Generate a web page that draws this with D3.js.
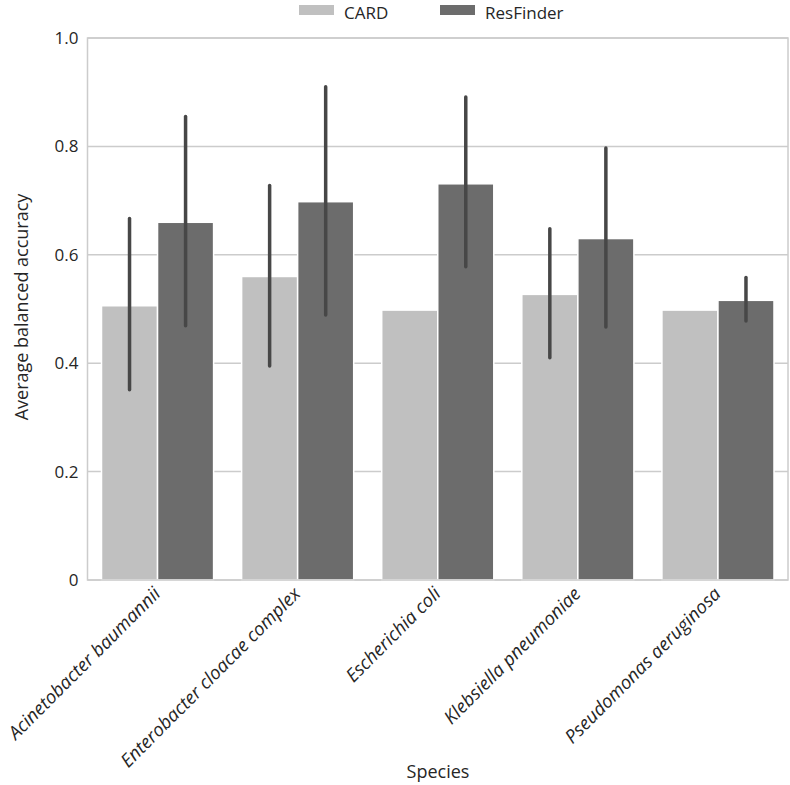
<!DOCTYPE html>
<html>
<head>
<meta charset="utf-8">
<script src="https://cdn.jsdelivr.net/npm/d3@7"></script>
<style>
  body { margin: 0; background: #fff; }
  svg { display: block; font-family: "Open Sans", "Noto Sans", sans-serif; }
</style>
</head>
<body>
<svg id="chart"></svg>
<script>
// Dados
const species = ['Acinetobacter baumannii', 'Enterobacter cloacae complex', 'Escherichia coli', 'Klebsiella pneumoniae', 'Pseudomonas aeruginosa'];
const tools = ['CARD', 'ResFinder'];
const cardMean = [0.506, 0.560, 0.498, 0.527, 0.498];
const cardLow = [0.351, 0.395, null, 0.410, null];
const cardHigh = [0.667, 0.728, null, 0.648, null];
const resMean = [0.660, 0.698, 0.731, 0.630, 0.516];
const resLow = [0.469, 0.489, 0.578, 0.467, 0.478];
const resHigh = [0.855, 0.910, 0.891, 0.797, 0.558];
const yTicks = [0, 0.2, 0.4, 0.6, 0.8, 1.0];

const width = 790, height = 785;
const margin = {top: 38, right: 2, bottom: 205, left: 87.5};
const colors = {CARD: '#c0c0c0', ResFinder: '#6c6c6c'};
const textColor = '#262626';

const svg = d3.select('#chart').attr('width', width).attr('height', height);

const x = d3.scaleBand().domain(species).range([margin.left, width - margin.right]).paddingInner(0).paddingOuter(0);
const xInner = d3.scaleBand().domain(tools).range([0, x.bandwidth() * 0.8]);
const y = d3.scaleLinear().domain([0, 1]).range([height - margin.bottom, margin.top]);

// Linhas de grade
svg.append('g')
    .selectAll('line')
    .data(yTicks)
    .enter()
    .append('line')
    .attr('x1', margin.left)
    .attr('x2', width - margin.right)
    .attr('y1', d => y(d))
    .attr('y2', d => y(d))
    .attr('stroke', '#cccccc')
    .attr('stroke-width', 1.5);

// Montar linhas por espécie e ferramenta
const rows = [];
species.forEach((s, i) => {
    rows.push({species: s, tool: 'CARD', mean: cardMean[i], low: cardLow[i], high: cardHigh[i]});
    rows.push({species: s, tool: 'ResFinder', mean: resMean[i], low: resLow[i], high: resHigh[i]});
});
const offset = x.bandwidth() * 0.1;

// Barras
svg.append('g')
    .selectAll('rect')
    .data(rows)
    .enter()
    .append('rect')
    .attr('x', d => x(d.species) + offset + xInner(d.tool))
    .attr('y', d => y(d.mean))
    .attr('width', xInner.bandwidth())
    .attr('height', d => y(0) - y(d.mean))
    .attr('fill', d => colors[d.tool])
    .attr('stroke', '#ffffff')
    .attr('stroke-width', 1.5);

// Barras de erro
svg.append('g')
    .selectAll('line')
    .data(rows.filter(d => d.low !== null))
    .enter()
    .append('line')
    .attr('x1', d => x(d.species) + offset + xInner(d.tool) + xInner.bandwidth() / 2)
    .attr('x2', d => x(d.species) + offset + xInner(d.tool) + xInner.bandwidth() / 2)
    .attr('y1', d => y(d.low))
    .attr('y2', d => y(d.high))
    .attr('stroke', '#474747')
    .attr('stroke-width', 3.5)
    .attr('stroke-linecap', 'round');

// Moldura
svg.append('rect')
    .attr('x', margin.left)
    .attr('y', margin.top)
    .attr('width', width - margin.right - margin.left)
    .attr('height', y(0) - margin.top)
    .attr('fill', 'none')
    .attr('stroke', '#cccccc')
    .attr('stroke-width', 1.5);

// Eixo Y
const yAxis = svg.append('g')
    .attr('transform', `translate(${margin.left},0)`)
    .call(d3.axisLeft(y).tickValues(yTicks).tickSize(0).tickPadding(9)
        .tickFormat(d => d === 0 ? '0' : d3.format('.1f')(d)));
yAxis.select('.domain').remove();
yAxis.selectAll('text')
    .attr('font-size', 17)
    .attr('font-family', '"Open Sans", sans-serif')
    .attr('fill', textColor);

// Rótulos do eixo X (itálico, rotacionados)
svg.append('g')
    .selectAll('text')
    .data(species)
    .enter()
    .append('text')
    .attr('transform', d => `translate(${x(d) + x.bandwidth() / 2 + 4},${y(0) + 15}) rotate(-45)`)
    .attr('text-anchor', 'end')
    .attr('font-size', 18.5)
    .attr('font-style', 'italic')
    .attr('fill', textColor)
    .text(d => d);

// Títulos dos eixos
svg.append('text')
    .attr('transform', `translate(28,307) rotate(-90)`)
    .attr('text-anchor', 'middle')
    .attr('font-size', 18)
    .attr('fill', textColor)
    .text('Average balanced accuracy');

svg.append('text')
    .attr('x', 438)
    .attr('y', 778)
    .attr('text-anchor', 'middle')
    .attr('font-size', 18)
    .attr('fill', textColor)
    .text('Species');

// Legenda
const legendX = [299, 440];
const legend = svg.append('g')
    .selectAll('g')
    .data(tools)
    .enter()
    .append('g')
    .attr('transform', (d, i) => `translate(${legendX[i]},0)`);
legend.append('rect')
    .attr('x', 0)
    .attr('y', 5)
    .attr('width', 35)
    .attr('height', 10)
    .attr('fill', d => colors[d]);
legend.append('text')
    .attr('x', 45)
    .attr('y', 18.5)
    .attr('font-size', 17)
    .attr('fill', textColor)
    .text(d => d);
</script>
</body>
</html>
